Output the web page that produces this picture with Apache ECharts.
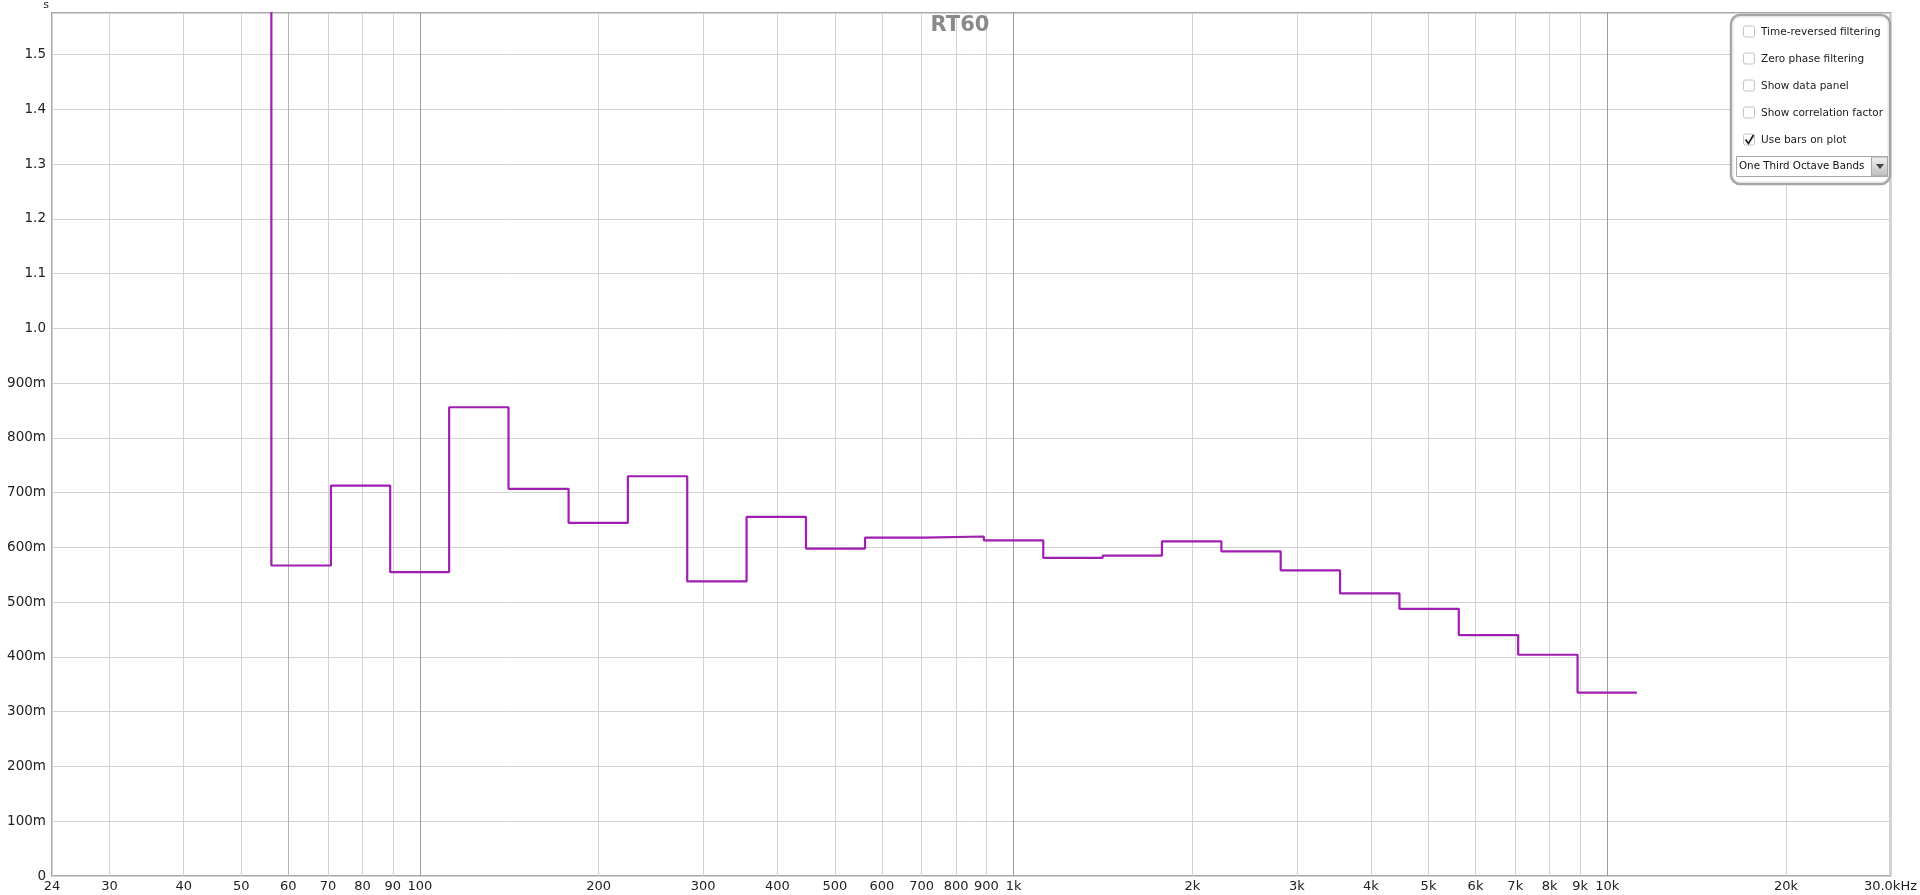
<!DOCTYPE html>
<html>
<head>
<meta charset="utf-8">
<script src="https://cdn.jsdelivr.net/npm/echarts@6/dist/echarts.min.js"></script>
<style>
html,body{margin:0;padding:0;background:#fff;}
#chart{width:1920px;height:895px;}
</style>
</head>
<body>
<div id="chart"></div>
<script>
// One-third octave band edges (Hz)
const bandEdges = [44.7, 56.2, 70.8, 89.1, 112, 141, 178, 224, 282, 355, 447, 562, 708, 891, 1122, 1413, 1778, 2239, 2818, 3548, 4467, 5623, 7079, 8913, 11220];
// Band centre names
const bandCenters = ['50','63','80','100','125','160','200','250','315','400','500','630','800','1k','1.25k','1.6k','2k','2.5k','3.15k','4k','5k','6.3k','8k','10k'];
// RT60 per band (s); first band is off the top of the plot (estimated)
const rt60 = [1.9, 0.567, 0.713, 0.555, 0.856, 0.707, 0.645, 0.730, 0.538, 0.656, 0.598, 0.618, 0.620, 0.613, 0.581, 0.585, 0.611, 0.593, 0.558, 0.516, 0.488, 0.440, 0.404, 0.335];
// X tick values and labels
const xTickValues = [24, 30, 40, 50, 60, 70, 80, 90, 100, 200, 300, 400, 500, 600, 700, 800, 900, 1000, 2000, 3000, 4000, 5000, 6000, 7000, 8000, 9000, 10000, 20000, 30000];
const xTickLabels = ['24','30','40','50','60','70','80','90','100','200','300','400','500','600','700','800','900','1k','2k','3k','4k','5k','6k','7k','8k','9k','10k','20k','30.0kHz'];
const xMajorValues = [100, 1000, 10000];
const xMidValues = [60];
const panelItems = ['Time-reversed filtering', 'Zero phase filtering', 'Show data panel', 'Show correlation factor', 'Use bars on plot'];
const panelChecked = [false, false, false, false, true];
const bandOption = 'One Third Octave Bands';

const stepData = [];
for (let i = 0; i < rt60.length; i++) {
  stepData.push([bandEdges[i], rt60[i]]);
  stepData.push([bandEdges[i + 1], rt60[i]]);
}

const FONT = 'DejaVu Sans';
const chart = echarts.init(document.getElementById('chart'));

const graphics = [];
const px = 1731, py = 15, pw = 159, ph = 169;
graphics.push({type:'rect', shape:{x:px, y:py, width:pw, height:ph, r:9}, style:{fill:'#fff', stroke:'#a6a6a6', lineWidth:2.5}, z:100});
graphics.push({type:'rect', shape:{x:px+2, y:py+2, width:pw-4, height:ph-4, r:7}, style:{fill:'none', stroke:'#e4e4e4', lineWidth:1}, z:100});
panelItems.forEach((t, i) => {
  const cy = 32 + i * 27;
  graphics.push({type:'rect', shape:{x:1743.5, y:cy-6, width:11, height:11, r:2}, style:{fill:'#fff', stroke:'#c4c4c4', lineWidth:1}, z:101});
  if (panelChecked[i]) {
    graphics.push({type:'polyline', shape:{points:[[1745.5, cy-0.5],[1748.5, cy+3.5],[1753.5, cy-5]]}, style:{stroke:'#222', lineWidth:1.8, fill:null}, z:102});
  }
  graphics.push({type:'text', x:1761, y:cy, style:{text:t, font:'10.5px "' + FONT + '"', fill:'#222', textVerticalAlign:'middle', textAlign:'left'}, z:101});
});
graphics.push({type:'rect', shape:{x:1736.5, y:156.5, width:151, height:20}, style:{fill:'#fff', stroke:'#a8a8a8', lineWidth:1}, z:101});
graphics.push({type:'rect', shape:{x:1871.5, y:157, width:16, height:19}, style:{fill:new echarts.graphic.LinearGradient(0,0,0,1,[{offset:0,color:'#f2f2f2'},{offset:1,color:'#bdbdbd'}]), stroke:'#a8a8a8', lineWidth:1}, z:102});
graphics.push({type:'polygon', shape:{points:[[1876, 164],[1884, 164],[1880, 169]]}, style:{fill:'#444'}, z:103});
graphics.push({type:'text', x:1739, y:166.5, style:{text:bandOption, font:'10.3px "' + FONT + '"', fill:'#111', textVerticalAlign:'middle'}, z:102});

function gridAxis(values, color) {
  return {
    type: 'log', logBase: 10, min: 24, max: 30000, position: 'bottom',
    axisLine: {show: false}, axisTick: {show: false, customValues: values},
    axisLabel: {show: false, customValues: values},
    splitLine: {show: true, lineStyle: {color: color, width: 1}}
  };
}

chart.setOption({
  backgroundColor: '#fff',
  animation: false,
  title: {
    text: 'RT60', left: 'center', top: 10,
    textStyle: {fontFamily: FONT, fontSize: 21, fontWeight: 'bold', color: '#8a8a8a'}
  },
  grid: {left: 52, right: 25, top: 12, bottom: 19, show: true, borderColor: '#a9a9a9', borderWidth: 2, backgroundColor: 'transparent'},
  xAxis: [{
    type: 'log', logBase: 10, min: 24, max: 30000,
    axisLine: {show: false}, axisTick: {show: false, customValues: xTickValues},
    axisLabel: {
      customValues: xTickValues, fontFamily: FONT, fontSize: 13, color: '#222', margin: 4,
      formatter: v => { const i = xTickValues.findIndex(t => Math.abs(t - v) < 1e-6 * t); return i >= 0 ? xTickLabels[i] : ''; }
    },
    splitLine: {show: true, lineStyle: {color: '#d2d2d2', width: 1}}
  }, gridAxis(xMidValues, '#b2b2b2'), gridAxis(xMajorValues, '#9c9c9c')],
  yAxis: {
    type: 'value', min: 0, max: 1.576, interval: 0.1,
    name: 's', nameLocation: 'end', nameGap: 2,
    nameTextStyle: {fontFamily: FONT, fontSize: 11, color: '#222', align: 'right', verticalAlign: 'bottom', padding: [0, 3, 0, 0]},
    axisLine: {show: false}, axisTick: {show: false},
    axisLabel: {
      fontFamily: FONT, fontSize: 13.5, color: '#222', margin: 6, showMaxLabel: false,
      formatter: v => v === 0 ? '0' : (v < 0.999 ? Math.round(v * 1000) + 'm' : v.toFixed(1))
    },
    splitLine: {show: true, lineStyle: {color: '#d2d2d2', width: 1}}
  },
  series: [{
    type: 'line', xAxisIndex: 0, data: stepData, showSymbol: false, symbol: 'none',
    lineStyle: {color: '#a01eb2', width: 2.2}, clip: true, z: 10
  }],
  graphic: graphics
});
</script>
</body>
</html>
